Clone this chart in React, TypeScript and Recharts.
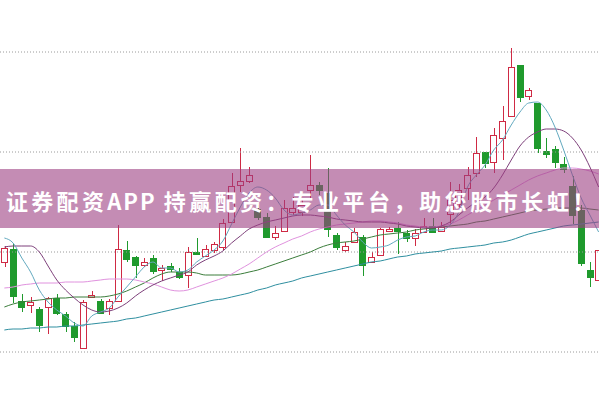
import React from 'react';
import { ComposedChart, Bar, Line, XAxis, YAxis, ReferenceLine } from 'recharts';

const opens = [
  10.90, 11.03, 10.51, 10.47, 10.43, 10.45, 10.54, 10.38, 10.26, 10.04,
  10.55, 10.51, 10.44, 10.51, 11.02, 10.95, 10.87, 10.94, 10.82, 10.86,
  10.80, 10.77, 11.00, 10.96, 11.02, 11.05, 11.30, 11.67, 11.71, 11.43,
  11.35, 11.15, 11.21, 11.40, 11.40, 11.62, 11.67, 11.59, 11.17, 11.02,
  11.10, 11.15, 10.90, 10.97, 11.21, 11.24, 11.19, 11.14, 11.20, 11.26,
  11.21, 11.38, 11.48, 11.64, 11.79, 12.00, 11.90, 12.14, 12.36, 12.87,
  12.56, 12.49, 12.01, 12.03, 11.88, 11.66, 11.42, 10.82, 10.72,
];
const closes = [
  11.04, 10.56, 10.45, 10.50, 10.27, 10.54, 10.39, 10.26, 10.15, 10.50,
  10.57, 10.39, 10.51, 11.03, 10.93, 10.87, 10.90, 10.81, 10.84, 10.83,
  10.75, 11.00, 10.98, 11.03, 11.08, 11.29, 11.66, 11.71, 11.77, 11.35,
  11.15, 11.19, 11.44, 11.44, 11.47, 11.67, 11.62, 11.23, 11.05, 11.06,
  11.20, 10.87, 10.95, 11.23, 11.23, 11.21, 11.14, 11.19, 11.26, 11.20,
  11.25, 11.52, 11.62, 11.77, 11.99, 11.89, 12.17, 12.31, 12.85, 12.55,
  12.62, 12.04, 11.98, 11.90, 11.83, 11.37, 10.89, 10.75, 11.02,
];
const highs = [
  11.06, 11.08, 10.58, 10.55, 10.45, 10.55, 10.58, 10.40, 10.30, 10.52,
  10.61, 10.53, 10.53, 11.27, 11.11, 10.96, 10.94, 10.97, 10.87, 10.89,
  10.84, 11.05, 11.14, 11.07, 11.10, 11.33, 11.79, 12.04, 11.85, 11.47,
  11.39, 11.26, 11.52, 11.55, 11.52, 11.97, 11.70, 11.84, 11.19, 11.10,
  11.24, 11.17, 11.00, 11.24, 11.25, 11.30, 11.22, 11.23, 11.34, 11.34,
  11.30, 11.70, 11.68, 11.85, 12.15, 12.00, 12.24, 12.46, 13.04, 12.87,
  12.64, 12.49, 12.14, 12.06, 11.95, 11.76, 11.47, 10.90, 11.09,
];
const lows = [
  10.85, 10.49, 10.40, 10.39, 10.20, 10.18, 10.37, 10.20, 10.10, 10.04,
  10.55, 10.38, 10.37, 10.51, 10.90, 10.74, 10.85, 10.78, 10.71, 10.80,
  10.73, 10.64, 10.98, 10.96, 10.99, 11.02, 11.30, 11.60, 11.69, 11.32,
  11.14, 11.12, 11.21, 11.37, 11.36, 11.54, 11.57, 11.15, 11.02, 11.00,
  11.09, 10.76, 10.90, 10.97, 11.20, 10.98, 11.10, 11.06, 11.19, 11.19,
  11.20, 11.27, 11.42, 11.52, 11.75, 11.84, 11.79, 11.92, 12.36, 12.50,
  12.52, 11.99, 11.94, 11.84, 11.79, 11.28, 10.86, 10.65, 10.55,
];
const ma5 = [
  11.14, 11.09, 10.94, 10.80, 10.62, 10.50, 10.42, 10.36, 10.29, 10.26,
  10.36, 10.40, 10.44, 10.55, 10.65, 10.75, 10.85, 10.90, 10.84, 10.84,
  10.80, 10.82, 10.90, 10.96, 11.02, 11.11, 11.28, 11.45, 11.59, 11.65,
  11.62, 11.54, 11.42, 11.37, 11.39, 11.42, 11.47, 11.47, 11.37, 11.27,
  11.20, 11.10, 11.04, 11.05, 11.07, 11.12, 11.15, 11.16, 11.20, 11.22,
  11.22, 11.27, 11.40, 11.65, 11.77, 11.87, 12.02, 12.12, 12.27, 12.40,
  12.49, 12.50, 12.42, 12.25, 12.02, 11.77, 11.54, 11.37, 11.20,
];
const ma10 = [
  11.05, 11.06, 11.06, 11.06, 11.00, 10.86, 10.72, 10.62, 10.54, 10.47,
  10.42, 10.40, 10.41, 10.44, 10.49, 10.56, 10.62, 10.67, 10.71, 10.74,
  10.77, 10.80, 10.87, 10.92, 10.96, 11.01, 11.09, 11.16, 11.23, 11.27,
  11.30, 11.32, 11.34, 11.36, 11.37, 11.37, 11.36, 11.35, 11.33, 11.32,
  11.31, 11.30, 11.30, 11.30, 11.29, 11.28, 11.26, 11.25, 11.24, 11.24,
  11.26, 11.30, 11.37, 11.44, 11.50, 11.55, 11.64, 11.77, 11.92, 12.06,
  12.15, 12.20, 12.23, 12.23, 12.21, 12.14, 12.02, 11.85, 11.65,
];
const ma20 = [
  10.64, 10.65, 10.67, 10.68, 10.69, 10.69, 10.69, 10.70, 10.70, 10.70,
  10.71, 10.72, 10.73, 10.73, 10.73, 10.72, 10.70, 10.68, 10.65, 10.62,
  10.61, 10.62, 10.65, 10.68, 10.71, 10.74, 10.78, 10.83, 10.88, 10.94,
  11.00, 11.05, 11.09, 11.13, 11.16, 11.20, 11.23, 11.25, 11.27, 11.28,
  11.29, 11.30, 11.31, 11.31, 11.30, 11.29, 11.27, 11.26, 11.25, 11.25,
  11.26, 11.28, 11.32, 11.37, 11.42, 11.47, 11.52, 11.57, 11.62, 11.67,
  11.72, 11.76, 11.79, 11.82, 11.84, 11.84, 11.83, 11.81, 11.78,
];
const ma30 = [
  10.45, 10.48, 10.50, 10.51, 10.52, 10.53, 10.54, 10.54, 10.55, 10.55,
  10.55, 10.55, 10.56, 10.58, 10.61, 10.65, 10.69, 10.74, 10.78, 10.80,
  10.80, 10.80, 10.79, 10.77, 10.77, 10.77, 10.77, 10.78, 10.80, 10.82,
  10.85, 10.88, 10.91, 10.94, 10.97, 11.00, 11.04, 11.07, 11.09, 11.10,
  11.11, 11.13, 11.15, 11.17, 11.18, 11.19, 11.20, 11.22, 11.23, 11.24,
  11.25, 11.26, 11.27, 11.28, 11.30, 11.31, 11.33, 11.35, 11.37, 11.39,
  11.41, 11.42, 11.43, 11.44, 11.44, 11.44, 11.44, 11.43, 11.42,
];
const ma60 = [
  10.22, 10.23, 10.23, 10.24, 10.24, 10.25, 10.25, 10.26, 10.26, 10.27,
  10.28, 10.29, 10.30, 10.31, 10.33, 10.34, 10.36, 10.38, 10.40, 10.42,
  10.44, 10.46, 10.48, 10.50, 10.52, 10.53, 10.55, 10.57, 10.59, 10.62,
  10.64, 10.67, 10.69, 10.71, 10.74, 10.76, 10.78, 10.80, 10.82, 10.84,
  10.86, 10.88, 10.90, 10.91, 10.93, 10.95, 10.96, 10.98, 10.99, 11.00,
  11.01, 11.03, 11.04, 11.05, 11.06, 11.07, 11.09, 11.10, 11.12, 11.15,
  11.18, 11.20, 11.22, 11.24, 11.26, 11.27, 11.28, 11.29, 11.30,
];
const gridTicks = [10, 11, 12, 13];
const yDomain: [number, number] = [9.52, 13.52];
const bannerParts = ['证券配资', 'APP ', '持赢配资：专业平台，助您股市长虹', '！'];

const RED = '#cf2a44';
const GREEN = '#1f9a2d';

const data = opens.map((o, i) => ({
  day: String(i + 1),
  open: o,
  close: closes[i],
  high: highs[i],
  low: lows[i],
  ma5: ma5[i],
  ma10: ma10[i],
  ma20: ma20[i],
  ma30: ma30[i],
  ma60: ma60[i],
}));

const Candle = (props: any) => {
  const { x, y, width, height, payload } = props;
  if (!payload) return null;
  const { open, close, high, low } = payload;
  const up = close >= open;
  const topY = Math.min(y, y + height);
  const h = Math.abs(height);
  const range = high - low;
  const k = range > 0 ? h / range : 0;
  const py = (v: number) => topY + (high - v) * k;
  const cx = Math.round(x + width / 2) + 0.5;
  const bTop = Math.round(py(Math.max(open, close))) + 0.5;
  let bBot = Math.round(py(Math.min(open, close))) + 0.5;
  if (bBot - bTop < 1) bBot = bTop + 1;
  const yH = py(high);
  const yL = py(low);
  const bx = Math.round(x) + 0.5;
  const bw = Math.max(2, Math.round(width) - 1);
  const color = up ? RED : GREEN;
  return (
    <g>
      <line x1={cx} x2={cx} y1={yH} y2={bTop} stroke={color} strokeWidth={1} />
      <line x1={cx} x2={cx} y1={bBot} y2={yL} stroke={color} strokeWidth={1} />
      <rect
        x={bx}
        y={bTop}
        width={bw}
        height={bBot - bTop}
        fill={up ? '#ffffff' : color}
        stroke={color}
        strokeWidth={1}
      />
    </g>
  );
};

const lineProps = {
  type: 'monotone' as const,
  strokeWidth: 1,
  dot: false,
  activeDot: false,
  isAnimationActive: false,
  legendType: 'none' as const,
};

export default function App() {
  return (
    <div
      style={{
        position: 'absolute',
        left: 0,
        top: 0,
        width: 599,
        height: 399,
        overflow: 'hidden',
        background: '#ffffff',
      }}
    >
      <ComposedChart
        width={603}
        height={400}
        data={data}
        margin={{ top: 0, right: 0, bottom: 0, left: 0 }}
        barCategoryGap={1}
      >
        <XAxis dataKey="day" hide padding={{ left: 0, right: 0 }} />
        <YAxis hide domain={yDomain} allowDataOverflow type="number" />
        {gridTicks.map((t) => (
          <ReferenceLine
            key={t}
            y={t}
            stroke="#9a9a9a"
            strokeDasharray="1 2"
            strokeWidth={1}
          />
        ))}
        <Bar
          dataKey={(d: any) => [d.low, d.high]}
          barSize={7}
          shape={<Candle />}
          isAnimationActive={false}
        />
        <Line {...lineProps} dataKey="ma60" stroke="#2f8fa0" />
        <Line {...lineProps} dataKey="ma30" stroke="#3b7d3b" />
        <Line {...lineProps} dataKey="ma20" stroke="#e092de" />
        <Line {...lineProps} dataKey="ma10" stroke="#7d3f7a" />
        <Line {...lineProps} dataKey="ma5" stroke="#62a9bf" />
      </ComposedChart>
      <div
        style={{
          position: 'absolute',
          left: 0,
          top: 169,
          width: 599,
          height: 59,
          background: 'rgba(157, 63, 130, 0.6)',
          display: 'flex',
          alignItems: 'center',
          paddingTop: 2,
          boxSizing: 'border-box',
          whiteSpace: 'pre',
          color: '#ffffff',
          fontFamily: '"Noto Sans CJK SC", "Noto Sans", sans-serif',
          fontWeight: 700,
          fontSize: 22,
        }}
      >
        <span style={{ marginLeft: 6, letterSpacing: 3.3 }}>{bannerParts[0]}</span>
        <span style={{ letterSpacing: 2, whiteSpace: 'pre' }}>{bannerParts[1]}</span>
        <span style={{ letterSpacing: 3.55 }}>{bannerParts[2]}</span>
        <span style={{ letterSpacing: 0 }}>{bannerParts[3]}</span>
      </div>
    </div>
  );
}
